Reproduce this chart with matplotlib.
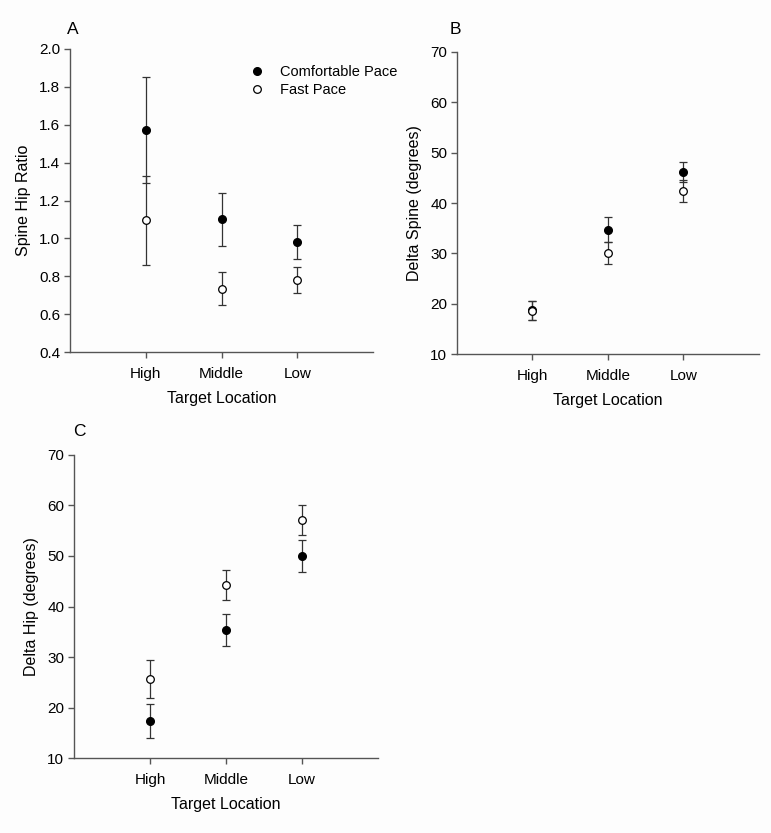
import matplotlib
matplotlib.use("Agg")
import matplotlib.pyplot as plt
import numpy as np

plt.rcParams['font.family'] = ['Liberation Sans', 'DejaVu Sans']

# DATA
locations = ["High", "Middle", "Low"]

ratio_comf = [1.57, 1.10, 0.98]
ratio_comf_err = [0.28, 0.14, 0.09]
ratio_fast = [1.095, 0.735, 0.78]
ratio_fast_err = [0.235, 0.085, 0.068]

spine_comf = [18.7, 34.7, 46.1]
spine_comf_err = [1.9, 2.5, 2.0]
spine_fast = [18.6, 30.0, 42.4]
spine_fast_err = [1.9, 2.2, 2.2]

hip_comf = [17.3, 35.3, 50.0]
hip_comf_err = [3.3, 3.2, 3.1]
hip_fast = [25.7, 44.2, 57.1]
hip_fast_err = [3.8, 3.0, 2.9]

AXCOL = '#555555'


def panel(ax, comf, comf_err, fast, fast_err, ylim, yticks, ylabel, fmt):
    x = np.arange(1, len(locations) + 1)
    ax.errorbar(x, comf, yerr=comf_err, fmt='none', ecolor='#333333',
                capsize=3.2, elinewidth=0.9, capthick=0.9, zorder=2)
    ax.errorbar(x, fast, yerr=fast_err, fmt='none', ecolor='#333333',
                capsize=3.2, elinewidth=0.9, capthick=0.9, zorder=2)
    ax.plot(x, comf, 'o', color='black', ms=5.5, ls='none',
            label='Comfortable Pace', zorder=3)
    ax.plot(x, fast, 'o', mfc='white', mec='black', mew=0.9, ms=5.5, ls='none',
            label='Fast Pace', zorder=4)
    ax.set_xlim(0, 4)
    ax.set_ylim(*ylim)
    ax.set_xticks(x)
    ax.set_xticklabels(locations)
    ax.set_yticks(yticks)
    ax.set_yticklabels([fmt.format(v) for v in yticks])
    ax.set_ylabel(ylabel, fontsize=11.5, labelpad=6)
    ax.set_xlabel('Target Location', fontsize=11.5, labelpad=7)
    for s in ['top', 'right']:
        ax.spines[s].set_visible(False)
    for s in ['left', 'bottom']:
        ax.spines[s].set_color(AXCOL)
        ax.spines[s].set_linewidth(1.0)
    ax.tick_params(direction='out', length=4, width=1.0, color=AXCOL,
                   labelsize=11, pad=3)
    ax.tick_params(axis='x', pad=7)


fig = plt.figure(figsize=(7.71, 8.33), dpi=100)
fig.patch.set_facecolor('#fdfdfd')

axA = fig.add_axes([0.0908, 0.5774, 0.393, 0.3638])
axB = fig.add_axes([0.5927, 0.5750, 0.3917, 0.3626])
axC = fig.add_axes([0.0960, 0.0900, 0.3943, 0.3638])
for a in (axA, axB, axC):
    a.set_facecolor('none')

panel(axA, ratio_comf, ratio_comf_err, ratio_fast, ratio_fast_err,
      (0.4, 2.0), np.arange(0.4, 2.01, 0.2), 'Spine Hip Ratio', '{:.1f}')
panel(axB, spine_comf, spine_comf_err, spine_fast, spine_fast_err,
      (10, 70), np.arange(10, 71, 10), 'Delta Spine (degrees)', '{:.0f}')
panel(axC, hip_comf, hip_comf_err, hip_fast, hip_fast_err,
      (10, 70), np.arange(10, 71, 10), 'Delta Hip (degrees)', '{:.0f}')

# panel letters
fig.text(67 / 771, 1 - 30 / 833, 'A', fontsize=12.5, ha='left', va='center')
fig.text(450 / 771, 1 - 30 / 833, 'B', fontsize=12.5, ha='left', va='center')
fig.text(73 / 771, 1 - 432 / 833, 'C', fontsize=12.5, ha='left', va='center')

axA.legend(loc='upper left', bbox_to_anchor=(0.545, 0.99), frameon=False,
           fontsize=10.5, handletextpad=1.0, labelspacing=0.25,
           handlelength=1.2)

fig.savefig('out.png', dpi=100, facecolor=fig.get_facecolor())
